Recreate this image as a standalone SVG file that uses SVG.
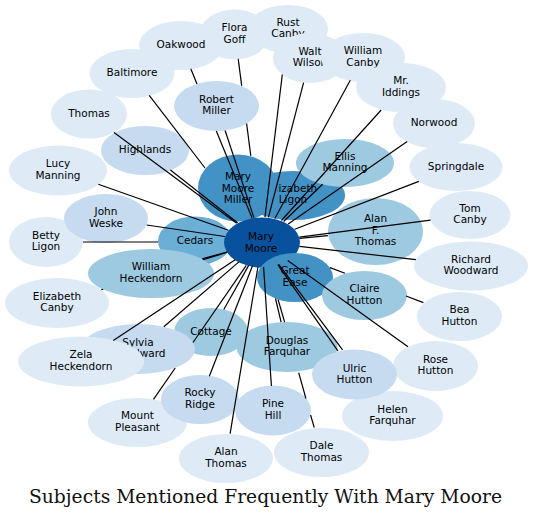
<svg xmlns="http://www.w3.org/2000/svg" width="533" height="520" viewBox="0 0 533 520">
<style>
.n text{font-family:"DejaVu Sans",sans-serif;font-size:10.5px;fill:#000;text-anchor:middle}
.l0{fill:#deebf7}.l1{fill:#c6dbef}.l2{fill:#9ecae1}.l3{fill:#6baed6}.l4{fill:#4292c6}.l5{fill:#08519c}
#edges line{stroke:#000;stroke-width:1.2}
.title{font-family:"DejaVu Serif",serif;font-size:18px;fill:#111;text-anchor:middle}
</style>
<rect width="533" height="520" fill="#fff"/>
<g id="nodes">
<g id="n-thomas" class="n"><ellipse class="l0" cx="89" cy="114" rx="38" ry="24.5"/><text x="89" y="116.5">Thomas</text></g>
<g id="n-lucy-manning" class="n"><ellipse class="l0" cx="58" cy="170.5" rx="49" ry="25"/><text x="58" y="167.2">Lucy</text><text x="58" y="178.8">Manning</text></g>
<g id="n-betty-ligon" class="n"><ellipse class="l0" cx="46" cy="242" rx="37" ry="25"/><text x="46" y="238.7">Betty</text><text x="46" y="250.3">Ligon</text></g>
<g id="n-elizabeth-canby" class="n"><ellipse class="l0" cx="57" cy="303" rx="52" ry="25"/><text x="57" y="299.7">Elizabeth</text><text x="57" y="311.3">Canby</text></g>
<g id="n-flora-goff" class="n"><ellipse class="l0" cx="234.5" cy="34.5" rx="35" ry="25"/><text x="234.5" y="31.2">Flora</text><text x="234.5" y="42.8">Goff</text></g>
<g id="n-oakwood" class="n"><ellipse class="l0" cx="181" cy="45.5" rx="42" ry="24.5"/><text x="181" y="48">Oakwood</text></g>
<g id="n-baltimore" class="n"><ellipse class="l0" cx="132" cy="73.5" rx="42.5" ry="24.5"/><text x="132" y="76">Baltimore</text></g>
<g id="n-rust-canby" class="n"><ellipse class="l0" cx="288" cy="29" rx="40" ry="24"/><text x="288" y="25.7">Rust</text><text x="288" y="37.3">Canby</text></g>
<g id="n-walt-wilson" class="n"><ellipse class="l0" cx="310" cy="58" rx="37" ry="25"/><text x="310" y="54.7">Walt</text><text x="310" y="66.3">Wilson</text></g>
<g id="n-william-canby" class="n"><ellipse class="l0" cx="363" cy="57.5" rx="42" ry="24.5"/><text x="363" y="54.2">William</text><text x="363" y="65.8">Canby</text></g>
<g id="n-mr-iddings" class="n"><ellipse class="l0" cx="401" cy="87.5" rx="45" ry="24.5"/><text x="401" y="84.2">Mr.</text><text x="401" y="95.8">Iddings</text></g>
<g id="n-norwood" class="n"><ellipse class="l0" cx="434" cy="123.5" rx="41" ry="24.5"/><text x="434" y="126">Norwood</text></g>
<g id="n-springdale" class="n"><ellipse class="l0" cx="456" cy="167" rx="46.5" ry="24"/><text x="456" y="169.5">Springdale</text></g>
<g id="n-tom-canby" class="n"><ellipse class="l0" cx="470" cy="215" rx="40.5" ry="24"/><text x="470" y="211.7">Tom</text><text x="470" y="223.3">Canby</text></g>
<g id="n-richard-woodward" class="n"><ellipse class="l0" cx="471" cy="266" rx="57" ry="24.5"/><text x="471" y="262.7">Richard</text><text x="471" y="274.3">Woodward</text></g>
<g id="n-bea-hutton" class="n"><ellipse class="l0" cx="459.5" cy="316.5" rx="42.5" ry="24.5"/><text x="459.5" y="313.2">Bea</text><text x="459.5" y="324.8">Hutton</text></g>
<g id="n-rose-hutton" class="n"><ellipse class="l0" cx="435.5" cy="366" rx="42.5" ry="25"/><text x="435.5" y="362.7">Rose</text><text x="435.5" y="374.3">Hutton</text></g>
<g id="n-helen-farquhar" class="n"><ellipse class="l0" cx="392.5" cy="416" rx="50.5" ry="25"/><text x="392.5" y="412.7">Helen</text><text x="392.5" y="424.3">Farquhar</text></g>
<g id="n-dale-thomas" class="n"><ellipse class="l0" cx="321.5" cy="452.5" rx="47.5" ry="24.5"/><text x="321.5" y="449.2">Dale</text><text x="321.5" y="460.8">Thomas</text></g>
<g id="n-alan-thomas" class="n"><ellipse class="l0" cx="226" cy="458.5" rx="47" ry="24.5"/><text x="226" y="455.2">Alan</text><text x="226" y="466.8">Thomas</text></g>
<g id="n-mount-pleasant" class="n"><ellipse class="l0" cx="137.5" cy="422.5" rx="49.5" ry="24.5"/><text x="137.5" y="419.2">Mount</text><text x="137.5" y="430.8">Pleasant</text></g>
<g id="n-highlands" class="n"><ellipse class="l1" cx="145" cy="150.5" rx="44" ry="24.5"/><text x="145" y="153">Highlands</text></g>
<g id="n-robert-miller" class="n"><ellipse class="l1" cx="216.5" cy="106" rx="42.5" ry="25"/><text x="216.5" y="102.7">Robert</text><text x="216.5" y="114.3">Miller</text></g>
<g id="n-john-weske" class="n"><ellipse class="l1" cx="106" cy="218.5" rx="42" ry="24.5"/><text x="106" y="215.2">John</text><text x="106" y="226.8">Weske</text></g>
<g id="n-rocky-ridge" class="n"><ellipse class="l1" cx="200" cy="399.5" rx="39" ry="24.5"/><text x="200" y="396.2">Rocky</text><text x="200" y="407.8">Ridge</text></g>
<g id="n-pine-hill" class="n"><ellipse class="l1" cx="273" cy="410.5" rx="38" ry="25"/><text x="273" y="407.2">Pine</text><text x="273" y="418.8">Hill</text></g>
<g id="n-cottage" class="n"><ellipse class="l2" cx="211" cy="332" rx="37" ry="24"/><text x="211" y="334.5">Cottage</text></g>
<g id="n-sylvia-woodward" class="n"><ellipse class="l1" cx="138" cy="349" rx="57" ry="25"/><text x="138" y="345.7">Sylvia</text><text x="138" y="357.3">Woodward</text></g>
<g id="n-zela-heckendorn" class="n"><ellipse class="l0" cx="81" cy="361.5" rx="63" ry="25"/><text x="81" y="358.2">Zela</text><text x="81" y="369.8">Heckendorn</text></g>
<g id="n-douglas-farquhar" class="n"><ellipse class="l2" cx="287" cy="347" rx="50.5" ry="25"/><text x="287" y="343.7">Douglas</text><text x="287" y="355.3">Farquhar</text></g>
<g id="n-ulric-hutton" class="n"><ellipse class="l1" cx="354.5" cy="374.5" rx="42.5" ry="25"/><text x="354.5" y="371.5">Ulric</text><text x="354.5" y="383.1">Hutton</text></g>
<g id="n-elizabeth-ligon" class="n"><ellipse class="l4" cx="293" cy="195.5" rx="52" ry="24.5"/><text x="293" y="191.7">Elizabeth</text><text x="293" y="203.3">Ligon</text></g>
<g id="n-mary-moore-miller" class="n"><ellipse class="l4" cx="238" cy="188" rx="40" ry="33.5"/><text x="238" y="179.9">Mary</text><text x="238" y="191.5">Moore</text><text x="238" y="203.1">Miller</text></g>
<g id="n-ellis-manning" class="n"><ellipse class="l2" cx="345" cy="163" rx="49" ry="24"/><text x="345" y="159.7">Ellis</text><text x="345" y="171.3">Manning</text></g>
<g id="n-alan-f-thomas" class="n"><ellipse class="l2" cx="375.5" cy="231.5" rx="47.5" ry="33.5"/><text x="375.5" y="222.2">Alan</text><text x="375.5" y="233.8">F.</text><text x="375.5" y="245.4">Thomas</text></g>
<g id="n-cedars" class="n"><ellipse class="l3" cx="195" cy="241" rx="37" ry="24.5"/><text x="195" y="243.5">Cedars</text></g>
<g id="n-william-heckendorn" class="n"><ellipse class="l2" cx="151" cy="273.5" rx="63" ry="24.5"/><text x="151" y="270.2">William</text><text x="151" y="281.8">Heckendorn</text></g>
<g id="n-mary-moore" class="n"><ellipse class="l5" cx="262" cy="242.5" rx="38" ry="25"/><text x="261" y="240">Mary</text><text x="261" y="251.6">Moore</text></g>
<g id="n-great-ease" class="n"><ellipse class="l4" cx="295" cy="277.5" rx="38" ry="24.5"/><text x="295" y="274.2">Great</text><text x="295" y="285.8">Ease</text></g>
<g id="n-claire-hutton" class="n"><ellipse class="l2" cx="364.5" cy="295.5" rx="42.5" ry="24.5"/><text x="364.5" y="292.2">Claire</text><text x="364.5" y="303.8">Hutton</text></g>
</g>
<g id="edges">
<line x1="114" y1="132.5" x2="236.7" y2="223.3"/>
<line x1="170.4" y1="170" x2="237.6" y2="222.8"/>
<line x1="98.3" y1="184.2" x2="228.5" y2="230.2"/>
<line x1="146.7" y1="225" x2="224.9" y2="236.5"/>
<line x1="83" y1="242" x2="158" y2="242"/>
<line x1="101.2" y1="289.8" x2="103.2" y2="289.2"/>
<line x1="203" y1="259.6" x2="227.4" y2="252.3"/>
<line x1="202.2" y1="258.9" x2="227" y2="252"/>
<line x1="113.3" y1="340.6" x2="235.2" y2="259.7"/>
<line x1="163.8" y1="326.7" x2="238.9" y2="261.9"/>
<line x1="153.5" y1="399.3" x2="175.2" y2="368"/>
<line x1="193" y1="342.5" x2="246.3" y2="265.3"/>
<line x1="223.8" y1="309.5" x2="248.7" y2="265.4"/>
<line x1="209.3" y1="376.2" x2="252.5" y2="265.8"/>
<line x1="230.1" y1="433.6" x2="257.9" y2="267.1"/>
<line x1="271.4" y1="386" x2="263.6" y2="267"/>
<line x1="314.2" y1="427.7" x2="310.6" y2="415"/>
<line x1="305.9" y1="398.5" x2="298.7" y2="372.6"/>
<line x1="284.6" y1="322.2" x2="278.1" y2="299.5"/>
<line x1="281.1" y1="322.2" x2="275.5" y2="298.5"/>
<line x1="337.9" y1="350.9" x2="277.8" y2="264.7"/>
<line x1="342.6" y1="349.8" x2="278.8" y2="264.4"/>
<line x1="408" y1="346.7" x2="287.7" y2="260.4"/>
<line x1="423.4" y1="302.6" x2="406" y2="296"/>
<line x1="345" y1="273.2" x2="330" y2="267.6"/>
<line x1="415.9" y1="259.7" x2="299.4" y2="246.3"/>
<line x1="327.9" y1="235.6" x2="299.4" y2="238.3"/>
<line x1="430.5" y1="220.1" x2="299.3" y2="237.2"/>
<line x1="418.8" y1="181.4" x2="294.7" y2="229.3"/>
<line x1="322.6" y1="184.3" x2="283.6" y2="221.5"/>
<line x1="407.2" y1="141.5" x2="288.2" y2="223.9"/>
<line x1="381.2" y1="110" x2="281.4" y2="220.5"/>
<line x1="350.3" y1="80.3" x2="274.8" y2="218.5"/>
<line x1="303.6" y1="82.6" x2="268.4" y2="217.3"/>
<line x1="282.3" y1="74.5" x2="265" y2="217.1"/>
<line x1="238.2" y1="58.9" x2="241.7" y2="85.8"/>
<line x1="246.6" y1="123.5" x2="250.8" y2="155.8"/>
<line x1="225.1" y1="130.5" x2="253.9" y2="217.6"/>
<line x1="190.8" y1="68.8" x2="197" y2="84"/>
<line x1="216.3" y1="130.9" x2="252.1" y2="217.9"/>
<line x1="149.2" y1="95.4" x2="205" y2="168"/>
</g>
<text class="title" x="265.5" y="503" textLength="473" lengthAdjust="spacingAndGlyphs">Subjects Mentioned Frequently With Mary Moore</text>
</svg>
